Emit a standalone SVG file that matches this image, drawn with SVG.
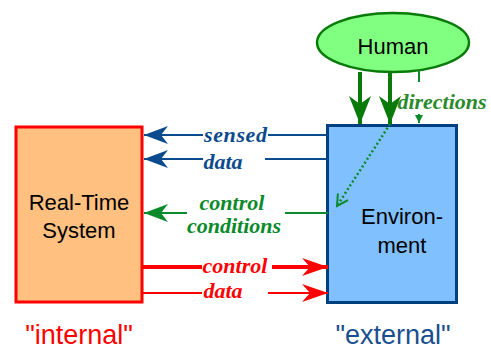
<svg xmlns="http://www.w3.org/2000/svg" width="491" height="350" viewBox="0 0 491 350">
<style>
.box{stroke-width:3}
.sans{font-family:"Liberation Sans",Arial,sans-serif;fill:#000;text-anchor:middle}
.lab{font-family:"Liberation Serif","Times New Roman",serif;font-style:italic;font-weight:bold;font-size:22px;text-anchor:middle}
.navy{stroke:#0b4a8c;fill:none;stroke-width:2}
.grn{stroke:#0a8a2a;fill:none;stroke-width:2}
.red{stroke:#ff0000;fill:none}
</style>
<defs>
<marker id="mNavy" markerWidth="24" markerHeight="18" refX="24" refY="9" orient="auto-start-reverse" markerUnits="userSpaceOnUse"><path d="M0,0 L24,9 L0,18 L7,9 Z" fill="#0b4a8c"/></marker>
<marker id="mGrn" markerWidth="24" markerHeight="18" refX="24" refY="9" orient="auto-start-reverse" markerUnits="userSpaceOnUse"><path d="M0,0 L24,9 L0,18 L7,9 Z" fill="#0a8a2a"/></marker>
<marker id="mRed" markerWidth="26" markerHeight="18" refX="26" refY="9" orient="auto" markerUnits="userSpaceOnUse"><path d="M0,0 L26,9 L0,18 L8,9 Z" fill="#ff0000"/></marker>
<marker id="mBig" markerWidth="28" markerHeight="22" refX="28" refY="11" orient="auto" markerUnits="userSpaceOnUse"><path d="M0,0 L28,11 L0,22 L8,11 Z" fill="#0a7a0a"/></marker>
<marker id="mSmall" markerWidth="8" markerHeight="8" refX="8" refY="4" orient="auto" markerUnits="userSpaceOnUse"><path d="M0,0 L8,4 L0,8 Z" fill="#0a8a2a"/></marker>
<marker id="mOpen" markerWidth="14" markerHeight="14" refX="12" refY="7" orient="auto" markerUnits="userSpaceOnUse"><path d="M1,1 L12,7 L1,13" fill="none" stroke="#0a8a2a" stroke-width="2"/></marker>
</defs>

<g id="rts">
<rect class="box" x="16" y="127" width="126" height="175" fill="#ffc080" stroke="#ff0000"/>
<text class="sans" x="79" y="210" font-size="22">Real-Time</text>
<text class="sans" x="79" y="238" font-size="22">System</text>
</g>

<g id="env">
<rect class="box" x="327.5" y="125.5" width="129" height="177" fill="#80c0ff" stroke="#003f80"/>
<text class="sans" x="402" y="224" font-size="22">Environ-</text>
<text class="sans" x="402" y="253" font-size="22">ment</text>
</g>

<g id="human">
<ellipse cx="393" cy="42.5" rx="76" ry="29.5" fill="#80ff80" stroke="#0a7a0a" stroke-width="2.5"/>
<text class="sans" x="393" y="54" font-size="22">Human</text>
</g>

<g id="lbl-internal"><text x="79" y="344" font-family="Liberation Sans,Arial,sans-serif" font-size="27" fill="#ff0000" text-anchor="middle">"internal"</text></g>
<g id="lbl-external"><text x="393" y="344" font-family="Liberation Sans,Arial,sans-serif" font-size="27" fill="#1a4f8f" text-anchor="middle">"external"</text></g>

<g id="connectors">
<!-- sensed data -->
<path class="navy" d="M203,135 H144" marker-end="url(#mNavy)"/>
<path class="navy" d="M268,135 H328"/>
<text class="lab" x="235.5" y="142" fill="#0b4a8c" textLength="63" lengthAdjust="spacing">sensed</text>
<path class="navy" d="M203,159 H144" marker-end="url(#mNavy)"/>
<path class="navy" d="M265,159 H328"/>
<text class="lab" x="223" y="169" fill="#0b4a8c">data</text>
<!-- control conditions -->
<path class="grn" d="M187,213 H144" marker-end="url(#mGrn)"/>
<path class="grn" d="M285,213 H328"/>
<text class="lab" x="232" y="210" fill="#0a8a2a">control</text>
<text class="lab" x="234" y="233" fill="#0a8a2a">conditions</text>
<!-- control data red -->
<path class="red" stroke-width="4" d="M142,267 H202"/>
<path class="red" stroke-width="4" d="M272,267 H328" marker-end="url(#mRed)"/>
<text class="lab" x="235" y="273" fill="#ff0000">control</text>
<path class="red" stroke-width="2" d="M142,293 H202"/>
<path class="red" stroke-width="2" d="M268,293 H328" marker-end="url(#mRed)"/>
<text class="lab" x="223" y="298" fill="#ff0000">data</text>
<!-- human arrows -->
<path d="M360,72 V124" stroke="#0a7a0a" stroke-width="4" fill="none" marker-end="url(#mBig)"/>
<path d="M390,72 V124" stroke="#0a7a0a" stroke-width="4" fill="none" marker-end="url(#mBig)"/>
<path class="grn" stroke-width="1.5" d="M419,70 V82"/>
<path class="grn" stroke-width="1.5" d="M419,114 V123" marker-end="url(#mSmall)"/>
<text class="lab" x="442" y="109" fill="#2a8a2a">directions</text>
<!-- dotted -->
<path d="M390,124 L337,206" stroke="#0a8a2a" stroke-width="2.5" stroke-dasharray="2,2.5" fill="none" marker-end="url(#mOpen)"/>
</g>
</svg>
